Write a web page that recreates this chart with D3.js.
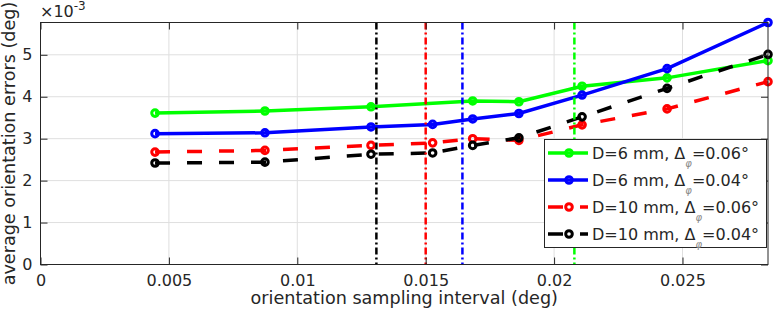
<!DOCTYPE html>
<html>
<head>
<meta charset="utf-8">
<script src="https://cdn.jsdelivr.net/npm/d3@7"></script>
<style>
  body { margin: 0; background: #fff; }
  text { font-family: "DejaVu Sans", sans-serif; fill: #262626; }
</style>
</head>
<body>
<div id="chart"></div>
<script>
// sampling intervals (deg)
let xAll = [0.00446, 0.00874, 0.01287, 0.01527, 0.01683, 0.01863, 0.02109, 0.02440, 0.02833];
let xGreen = [0.00446, 0.00874, 0.01287, 0.01683, 0.01863, 0.02109, 0.02440, 0.02833];

// errors, in units of 1e-3 deg
let errD6a = [3.61, 3.66, 3.76, 3.90, 3.88, 4.25, 4.45, 4.86];
let errD6b = [3.12, 3.14, 3.28, 3.34, 3.47, 3.60, 4.04, 4.67, 5.77];
let errD10a = [2.68, 2.72, 2.84, 2.90, 3.00, 2.96, 3.33, 3.71, 4.36];
let errD10b = [2.42, 2.44, 2.63, 2.66, 2.84, 3.02, 3.52, 4.20, 5.01];

let seriesNames = ["D=6 mm, ", "D=6 mm, ", "D=10 mm, ", "D=10 mm, "];
let seriesDelta = ["=0.06°", "=0.04°", "=0.06°", "=0.04°"];
let seriesColors = ["#00ff00", "#0000ff", "#ff0000", "#000000"];

// vertical reference lines
let vlineX = [0.01308, 0.0150, 0.01643, 0.02079];
let vlineColors = ["#000000", "#ff0000", "#0000ff", "#00ff00"];

let xTicks = [0, 0.005, 0.01, 0.015, 0.02, 0.025];
let xTickLabels = ["0", "0.005", "0.01", "0.015", "0.02", "0.025"];
let yTicks = [0, 1, 2, 3, 4, 5];

let width = 775, height = 312;
let pLeft = 40.5, pRight = 768, pTop = 22.5, pBottom = 264.5;
let fs = 16, labelFs = 17.6;

let series = [
  {x: xGreen, y: errD6a, dash: null},
  {x: xAll, y: errD6b, dash: null},
  {x: xAll, y: errD10a, dash: "15,17"},
  {x: xAll, y: errD10b, dash: "15,17"}
];

let svg = d3.select("#chart").append("svg")
  .attr("width", width)
  .attr("height", height);

let x = d3.scaleLinear()
  .domain([0, d3.max(xAll)])
  .range([pLeft, pRight]);

let y = d3.scaleLinear()
  .domain([0, d3.max(errD6b)])
  .range([pBottom, pTop]);

// grid
svg.append("g").selectAll("line").data(xTicks).enter().append("line")
  .attr("x1", d => x(d)).attr("x2", d => x(d))
  .attr("y1", pTop).attr("y2", pBottom)
  .attr("stroke", "#dfdfdf").attr("stroke-width", 1);
svg.append("g").selectAll("line").data(yTicks).enter().append("line")
  .attr("x1", pLeft).attr("x2", pRight)
  .attr("y1", d => y(d)).attr("y2", d => y(d))
  .attr("stroke", "#dfdfdf").attr("stroke-width", 1);

// data lines
let line = d3.line().x(d => x(d[0])).y(d => y(d[1]));
let plot = svg.append("g");
series.forEach(function(s, i) {
  let pts = s.x.map((v, j) => [v, s.y[j]]);
  plot.append("path")
    .attr("d", line(pts))
    .attr("fill", "none")
    .attr("stroke", seriesColors[i])
    .attr("stroke-width", 3.5)
    .attr("stroke-dasharray", s.dash);
  plot.append("g").selectAll("circle").data(pts).enter().append("circle")
    .attr("cx", d => x(d[0]))
    .attr("cy", d => y(d[1]))
    .attr("r", 3.3)
    .attr("fill", "none")
    .attr("stroke", seriesColors[i])
    .attr("stroke-width", 3);
});

// vertical dash-dot lines
svg.append("g").selectAll("line").data(vlineX).enter().append("line")
  .attr("x1", d => x(d)).attr("x2", d => x(d))
  .attr("y1", pTop).attr("y2", pBottom)
  .attr("stroke", (d, i) => vlineColors[i])
  .attr("stroke-width", 2.5)
  .attr("stroke-dasharray", "7,3,2,3");

// axes
let xAxis = d3.axisBottom(x).tickValues(xTicks)
  .tickFormat((d, i) => xTickLabels[i]).tickSize(-7).tickPadding(10);
let yAxis = d3.axisLeft(y).tickValues(yTicks).tickFormat(d3.format("d"))
  .tickSize(-7).tickPadding(8);

function styleAxis(g) {
  g.select(".domain").remove();
  g.selectAll(".tick line").attr("stroke", "#262626");
  g.selectAll("text").attr("font-size", fs).attr("font-family", "DejaVu Sans").attr("fill", "#262626");
}

svg.append("g").attr("transform", `translate(0,${pBottom})`).call(xAxis).call(styleAxis);
svg.append("g").attr("transform", `translate(${pLeft},0)`).call(yAxis).call(styleAxis);
svg.append("g").attr("transform", `translate(0,${pTop})`)
  .call(d3.axisTop(x).tickValues(xTicks).tickSize(-7).tickFormat(""))
  .call(styleAxis);
svg.append("g").attr("transform", `translate(${pRight},0)`)
  .call(d3.axisRight(y).tickValues(yTicks).tickSize(-7).tickFormat(""))
  .call(styleAxis);
svg.append("rect")
  .attr("x", pLeft).attr("y", pTop)
  .attr("width", pRight - pLeft).attr("height", pBottom - pTop)
  .attr("fill", "none").attr("stroke", "#262626").attr("stroke-width", 1);

// exponent
let expo = svg.append("text").attr("x", 40).attr("y", 17).attr("font-size", fs);
expo.append("tspan").text("×10");
expo.append("tspan").attr("font-size", 12).attr("dy", -7).text("-3");

// axis labels
svg.append("text")
  .attr("x", (pLeft + pRight) / 2)
  .attr("y", 304)
  .attr("text-anchor", "middle")
  .attr("font-size", labelFs)
  .text("orientation sampling interval (deg)");

svg.append("text")
  .attr("transform", `translate(15,${(pTop + pBottom) / 2}) rotate(-90)`)
  .attr("text-anchor", "middle")
  .attr("font-size", labelFs)
  .text("average orientation errors (deg)");

// legend
let lg = svg.append("g");
lg.append("rect")
  .attr("x", 544.5).attr("y", 139.5)
  .attr("width", 222).attr("height", 108)
  .attr("fill", "#fff").attr("stroke", "#262626").attr("stroke-width", 1);

series.forEach(function(s, i) {
  let cy = 153 + i * 27;
  lg.append("line")
    .attr("x1", 548).attr("x2", 588)
    .attr("y1", cy).attr("y2", cy)
    .attr("stroke", seriesColors[i])
    .attr("stroke-width", 3.5)
    .attr("stroke-dasharray", s.dash);
  lg.append("circle")
    .attr("cx", 569).attr("cy", cy).attr("r", 3.3)
    .attr("fill", "none")
    .attr("stroke", seriesColors[i]).attr("stroke-width", 3);
  let t = lg.append("text").attr("x", 592).attr("y", cy + 6).attr("font-size", fs);
  t.append("tspan").text(seriesNames[i] + "Δ");
  t.append("tspan").attr("font-size", 10).attr("font-style", "italic")
    .attr("fill", "#888").attr("dy", 8).text("φ");
  t.append("tspan").attr("dy", -8).text(seriesDelta[i]);
});
</script>
</body>
</html>
